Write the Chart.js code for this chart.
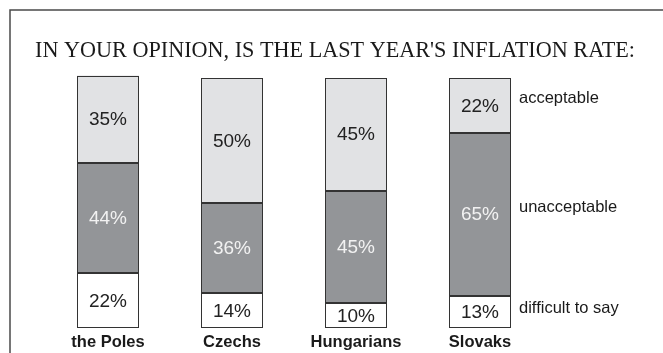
<!DOCTYPE html>
<html>
<head>
<meta charset="utf-8">
<script src="https://cdn.jsdelivr.net/npm/chart.js@4/dist/chart.umd.min.js"></script>
<style>
  html, body { margin: 0; padding: 0; background: #ffffff; }
  canvas { display: block; }
</style>
</head>
<body>
<canvas id="chart" width="663" height="353"></canvas>
<script>
// Survey: opinion on last year's inflation rate, by nation (percent)
const categories = ["the Poles", "Czechs", "Hungarians", "Slovaks"];
const seriesNames = ["difficult to say", "unacceptable", "acceptable"];
const difficultToSay = [22, 14, 10, 13];
const unacceptable = [44, 36, 45, 65];
const acceptable = [35, 50, 45, 22];
const title = "IN YOUR OPINION, IS THE LAST YEAR'S INFLATION RATE:";

const SANS = "'Liberation Sans', Arial, sans-serif";
const SERIF = "'Liberation Serif', 'Times New Roman', serif";

const fills = ["#ffffff", "#939598", "#e1e2e4"];
const valueColors = ["#222222", "#f2f2f2", "#222222"];

// Frame, heading, segment outlines, value labels, category and series names
const decorations = {
  id: "decorations",
  beforeDraw(chart) {
    const ctx = chart.ctx;
    ctx.save();
    ctx.fillStyle = "#ffffff";
    ctx.fillRect(0, 0, chart.width, chart.height);
    ctx.strokeStyle = "#4a4a4a";
    ctx.lineWidth = 1.5;
    ctx.beginPath();
    ctx.moveTo(10, chart.height);
    ctx.lineTo(10, 10);
    ctx.lineTo(chart.width, 10);
    ctx.stroke();

    ctx.fillStyle = "#1a1a1a";
    ctx.font = "22.2px " + SERIF;
    ctx.textAlign = "center";
    ctx.textBaseline = "alphabetic";
    ctx.fillText(title, 335, 57);
    ctx.restore();
  },
  afterDatasetsDraw(chart) {
    const ctx = chart.ctx;
    ctx.save();

    // crisp 1px outlines around every segment
    ctx.strokeStyle = "#333333";
    ctx.lineWidth = 1;
    chart.data.datasets.forEach((ds, i) => {
      chart.getDatasetMeta(i).data.forEach((el) => {
        const l = Math.round(el.x - el.width / 2) + 0.5;
        const r = Math.round(el.x + el.width / 2) - 0.5;
        const t = Math.round(el.y) + 0.5;
        const b = Math.round(el.base) - 0.5;
        ctx.strokeRect(l, t, r - l, b - t);
      });
    });

    ctx.textAlign = "center";
    ctx.textBaseline = "middle";
    ctx.font = "19px " + SANS;
    chart.data.datasets.forEach((ds, i) => {
      const meta = chart.getDatasetMeta(i);
      ctx.fillStyle = valueColors[i];
      meta.data.forEach((el, j) => {
        const y = (el.y + el.base) / 2;
        ctx.fillText(ds.data[j] + "%", el.x, y + 1);
      });
    });

    // category names under the bars
    ctx.fillStyle = "#1a1a1a";
    ctx.font = "bold 16.5px " + SANS;
    const first = chart.getDatasetMeta(0);
    first.data.forEach((el, j) => {
      ctx.fillText(categories[j], el.x, chart.chartArea.bottom + 14);
    });

    // series names beside the last bar
    ctx.textAlign = "left";
    ctx.font = "16.5px " + SANS;
    const lift = [-3, -7, -7];
    chart.data.datasets.forEach((ds, i) => {
      const meta = chart.getDatasetMeta(i);
      const el = meta.data[meta.data.length - 1];
      const y = (el.y + el.base) / 2 + lift[i];
      ctx.fillText(ds.label, el.x + el.width / 2 + 8, y);
    });
    ctx.restore();
  }
};

new Chart(document.getElementById("chart"), {
  type: "bar",
  data: {
    labels: categories,
    datasets: [
      { label: seriesNames[0], data: difficultToSay, backgroundColor: fills[0] },
      { label: seriesNames[1], data: unacceptable, backgroundColor: fills[1] },
      { label: seriesNames[2], data: acceptable, backgroundColor: fills[2] }
    ]
  },
  options: {
    responsive: false,
    animation: false,
    devicePixelRatio: 1,
    layout: { padding: { left: 46, right: 121, top: 53, bottom: 25 } },
    datasets: {
      bar: { barPercentage: 0.5, categoryPercentage: 1, borderWidth: 0 }
    },
    plugins: {
      legend: { display: false },
      tooltip: { enabled: false },
      title: { display: false }
    },
    scales: {
      x: { stacked: true, display: false },
      y: { stacked: true, display: false, min: 0, max: 110 }
    }
  },
  plugins: [decorations]
});
</script>
</body>
</html>
